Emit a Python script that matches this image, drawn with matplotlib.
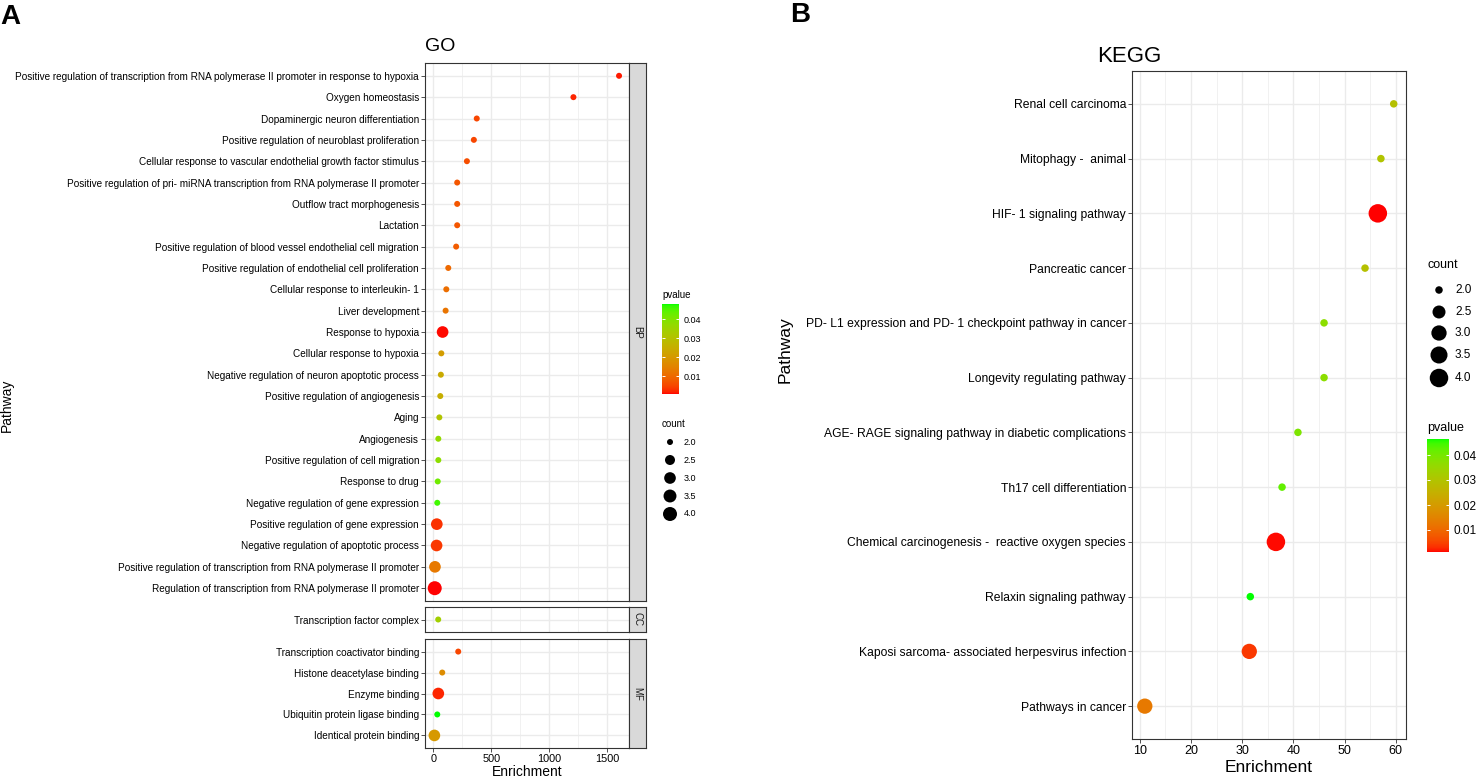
import numpy as np
import matplotlib
matplotlib.use('Agg')
import matplotlib.pyplot as plt
from matplotlib.colors import ListedColormap, Normalize
from matplotlib.cm import ScalarMappable

plt.rcParams['font.family'] = ['Liberation Sans', 'DejaVu Sans']

# GO - biological process
bp_terms = [
    "Positive regulation of transcription from RNA polymerase II promoter in response to hypoxia",
    "Oxygen homeostasis",
    "Dopaminergic neuron differentiation",
    "Positive regulation of neuroblast proliferation",
    "Cellular response to vascular endothelial growth factor stimulus",
    "Positive regulation of pri- miRNA transcription from RNA polymerase II promoter",
    "Outflow tract morphogenesis",
    "Lactation",
    "Positive regulation of blood vessel endothelial cell migration",
    "Positive regulation of endothelial cell proliferation",
    "Cellular response to interleukin- 1",
    "Liver development",
    "Response to hypoxia",
    "Cellular response to hypoxia",
    "Negative regulation of neuron apoptotic process",
    "Positive regulation of angiogenesis",
    "Aging",
    "Angiogenesis",
    "Positive regulation of cell migration",
    "Response to drug",
    "Negative regulation of gene expression",
    "Positive regulation of gene expression",
    "Negative regulation of apoptotic process",
    "Positive regulation of transcription from RNA polymerase II promoter",
    "Regulation of transcription from RNA polymerase II promoter",
]
bp_enrich = [1604, 1210, 375, 350, 290, 206, 206, 206, 197, 129, 112, 106, 80,
             69, 65, 60, 52, 43, 43, 38, 34, 30, 28, 14, 12]
bp_pvalue = [0.0015, 0.002, 0.005, 0.005, 0.006, 0.007, 0.007, 0.007, 0.008, 0.010,
             0.011, 0.012, 0.001, 0.021, 0.024, 0.025, 0.031, 0.037, 0.038, 0.042,
             0.046, 0.003, 0.0035, 0.013, 0.0007]
bp_count = [2, 2, 2, 2, 2, 2, 2, 2, 2, 2, 2, 2, 3, 2, 2, 2, 2, 2, 2, 2, 2, 3, 3, 3, 4]

# GO - cellular component
cc_terms = ["Transcription factor complex"]
cc_enrich = [42]
cc_pvalue = [0.034]
cc_count = [2]

# GO - molecular function
mf_terms = ["Transcription coactivator binding", "Histone deacetylase binding",
            "Enzyme binding", "Ubiquitin protein ligase binding",
            "Identical protein binding"]
mf_enrich = [215, 77, 43, 34, 9]
mf_pvalue = [0.005, 0.017, 0.002, 0.048, 0.020]
mf_count = [2, 2, 3, 2, 3]

# KEGG
kegg_terms = ["Renal cell carcinoma", "Mitophagy -  animal", "HIF- 1 signaling pathway",
              "Pancreatic cancer",
              "PD- L1 expression and PD- 1 checkpoint pathway in cancer",
              "Longevity regulating pathway",
              "AGE- RAGE signaling pathway in diabetic complications",
              "Th17 cell differentiation",
              "Chemical carcinogenesis -  reactive oxygen species",
              "Relaxin signaling pathway",
              "Kaposi sarcoma- associated herpesvirus infection",
              "Pathways in cancer"]
kegg_enrich = [59.6, 57.1, 56.5, 54.0, 46.0, 46.0, 40.9, 37.8, 36.6, 31.6, 31.4, 11.0]
kegg_pvalue = [0.029, 0.030, 0.0012, 0.029, 0.037, 0.037, 0.039, 0.042, 0.0015,
               0.0464, 0.004, 0.013]
kegg_count = [2, 2, 4, 2, 2, 2, 2, 2, 4, 2, 3, 3]

count_breaks = [2.0, 2.5, 3.0, 3.5, 4.0]
p_breaks = [0.01, 0.02, 0.03, 0.04]


# red -> green gradient interpolated in Lab space (like ggplot)
def lab_to_rgb(lab):
    L, a, b = lab[:, 0], lab[:, 1], lab[:, 2]
    fy = (L + 16) / 116
    fx = fy + a / 500
    fz = fy - b / 200

    def finv(t):
        return np.where(t > 6 / 29, t ** 3, 3 * (6 / 29) ** 2 * (t - 4 / 29))
    X, Y, Z = 0.95047 * finv(fx), finv(fy), 1.08883 * finv(fz)
    r = 3.2406 * X - 1.5372 * Y - 0.4986 * Z
    g = -0.9689 * X + 1.8758 * Y + 0.0415 * Z
    bl = 0.0557 * X - 0.2040 * Y + 1.0570 * Z
    rgb = np.clip(np.stack([r, g, bl], axis=1), 0, None)
    rgb = np.where(rgb > 0.0031308, 1.055 * rgb ** (1 / 2.4) - 0.055, 12.92 * rgb)
    return np.clip(rgb, 0, 1)


t = np.linspace(0, 1, 256)[:, None]
red_lab = np.array([53.24, 80.09, 67.20])
green_lab = np.array([87.73, -86.18, 83.18])
cmap = ListedColormap(lab_to_rgb(red_lab + (green_lab - red_lab) * t))

W, H = 1477, 778


def box(l, top, r, b):
    return [l / W, 1 - b / H, (r - l) / W, (b - top) / H]


def dot_size(count, d2, d4):
    diam = d2 + (d4 - d2) * np.sqrt((np.asarray(count, float) - 2) / 2)
    return (diam * 0.72) ** 2


def style_panel(ax, xlim, major, minor, fs):
    ax.set_xlim(xlim)
    ax.set_xticks(major)
    ax.set_xticks(minor, minor=True)
    ax.grid(True, which='major', color='#EBEBEB', lw=1.0)
    ax.grid(True, which='minor', axis='x', color='#EBEBEB', lw=0.5)
    ax.set_axisbelow(True)
    ax.tick_params(which='minor', length=0)
    ax.tick_params(which='major', length=2.8, width=0.6, color='#333333',
                   labelsize=fs, pad=1.5, labelcolor='black')
    for sp in ax.spines.values():
        sp.set_color('#333333')
        sp.set_linewidth(0.8)


def draw_dots(ax, terms, enrich, pvalue, count, norm, d2, d4):
    y = np.arange(len(terms))[::-1]
    ax.scatter(enrich, y, s=dot_size(count, d2, d4), c=pvalue, cmap=cmap,
               norm=norm, edgecolors='none', zorder=3)
    ax.set_yticks(y)
    ax.set_yticklabels(terms)
    ax.set_ylim(-0.6, len(terms) - 1 + 0.6)


fig = plt.figure(figsize=(W / 100, H / 100), dpi=100)

# ---------------- GO panel ----------------
go_p = bp_pvalue + cc_pvalue + mf_pvalue
go_norm = Normalize(min(go_p), max(go_p))
go_xlim = (-72, 1690)
go_sets = [
    (bp_terms, bp_enrich, bp_pvalue, bp_count, 'BP', (63, 601)),
    (cc_terms, cc_enrich, cc_pvalue, cc_count, 'CC', (607, 632)),
    (mf_terms, mf_enrich, mf_pvalue, mf_count, 'MF', (639, 748)),
]
for i, (terms, enrich, pv, cnt, lab, (top, bot)) in enumerate(go_sets):
    ax = fig.add_axes(box(425, top, 629, bot))
    draw_dots(ax, terms, enrich, pv, cnt, go_norm, 6, 14)
    style_panel(ax, go_xlim, [0, 500, 1000, 1500], [250, 750, 1250], 7.2)
    ax.tick_params(axis='x', labelsize=7.8)
    if i < 2:
        ax.tick_params(axis='x', which='both', bottom=False, labelbottom=False)
    st = fig.add_axes(box(629, top, 646, bot))
    st.set_facecolor('#D9D9D9')
    st.set_xticks([])
    st.set_yticks([])
    for sp in st.spines.values():
        sp.set_color('#333333')
        sp.set_linewidth(0.8)
    st.text(0.5, 0.5, lab, rotation=270, ha='center', va='center',
            fontsize=7, color='#1A1A1A', transform=st.transAxes)

# ---------------- KEGG panel ----------------
kegg_norm = Normalize(min(kegg_pvalue), max(kegg_pvalue))
kax = fig.add_axes(box(1132, 71, 1406, 739))
draw_dots(kax, kegg_terms, kegg_enrich, kegg_pvalue, kegg_count, kegg_norm, 7.5, 18.5)
style_panel(kax, (8.5, 62.0), [10, 20, 30, 40, 50, 60], [15, 25, 35, 45, 55], 8.7)
kax.tick_params(axis='x', labelsize=9)

# colour bars
for cb_box, norm, fs in [((662, 304, 679, 394), go_norm, 6.5),
                         ((1427, 439, 1449, 552), kegg_norm, 8.5)]:
    cax = fig.add_axes(box(*cb_box))
    cb = fig.colorbar(ScalarMappable(norm=norm, cmap=cmap), cax=cax)
    cb.outline.set_visible(False)
    cb.set_ticks(p_breaks)
    cb.set_ticklabels(['%.2f' % v for v in p_breaks])
    cax.yaxis.set_ticks_position('both')
    cax.tick_params(direction='in', color='white', length=2.5, width=0.7,
                    labelsize=fs, pad=3, labelcolor='black')
    cax.tick_params(which='minor', length=0)

# overlay for texts and size legends (pixel coordinates)
ov = fig.add_axes([0, 0, 1, 1])
ov.set_xlim(0, W)
ov.set_ylim(H, 0)
ov.axis('off')

ov.text(0, 17, 'A', fontsize=20, fontweight='bold', va='center', ha='left')
ov.text(790, 15, 'B', fontsize=20, fontweight='bold', va='center', ha='left')
ov.text(425, 46, 'GO', fontsize=14, va='center', ha='left')
ov.text(1097, 56, 'KEGG', fontsize=16, va='center', ha='left')

ov.text(7, 405, 'Pathway', fontsize=10, rotation=90, va='center', ha='center')
ov.text(527, 772, 'Enrichment', fontsize=10, va='center', ha='center')
ov.text(785, 350, 'Pathway', fontsize=12.5, rotation=90, va='center', ha='center')
ov.text(1269, 768, 'Enrichment', fontsize=12.5, va='center', ha='center')

# GO legends
ov.text(662, 295, 'pvalue', fontsize=7, va='center', ha='left')
ov.text(662, 424, 'count', fontsize=7, va='center', ha='left')
go_key_y = [442, 460, 478, 496, 514]
ov.scatter([670] * len(count_breaks), go_key_y, s=dot_size(count_breaks, 6, 14),
           c='black', edgecolors='none')
for yk, v in zip(go_key_y, count_breaks):
    ov.text(684, yk, '%.1f' % v, fontsize=6.5, va='center', ha='left')

# KEGG legends
ov.text(1427, 265, 'count', fontsize=9, va='center', ha='left')
ov.text(1427, 428, 'pvalue', fontsize=9, va='center', ha='left')
kegg_key_y = [290, 312, 333, 355, 378]
ov.scatter([1439] * len(count_breaks), kegg_key_y, s=dot_size(count_breaks, 7.5, 18.5),
           c='black', edgecolors='none')
for yk, v in zip(kegg_key_y, count_breaks):
    ov.text(1455, yk, '%.1f' % v, fontsize=8.5, va='center', ha='left')

fig.savefig('out.png', dpi=100)
